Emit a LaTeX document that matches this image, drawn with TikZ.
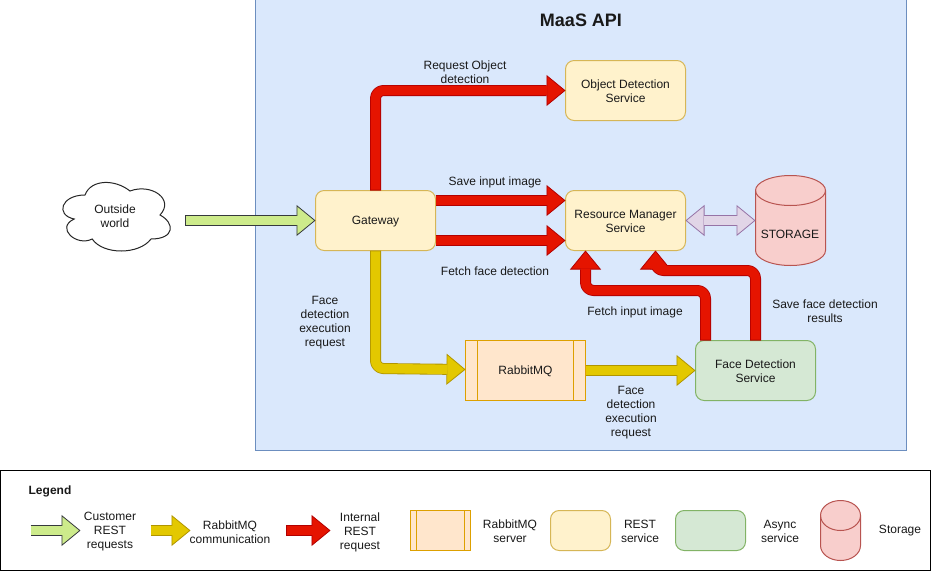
\documentclass[tikz,border=0pt]{standalone}
\usepackage{fontspec}
\setmainfont{Liberation Sans}
\usetikzlibrary{arrows.meta,calc}
\definecolor{apifill}{HTML}{DAE8FC}\definecolor{apiline}{HTML}{6C8EBF}
\definecolor{restfill}{HTML}{FFF2CC}\definecolor{restline}{HTML}{D6B656}
\definecolor{asyncfill}{HTML}{D5E8D4}\definecolor{asyncline}{HTML}{82B366}
\definecolor{rabbitfill}{HTML}{FFE6CC}\definecolor{rabbitline}{HTML}{DDA000}
\definecolor{storefill}{HTML}{F8CECC}\definecolor{storeline}{HTML}{B85450}
\definecolor{redfill}{HTML}{E51400}\definecolor{redline}{HTML}{B20000}
\definecolor{yelfill}{HTML}{E3C800}\definecolor{yelline}{HTML}{B09500}
\definecolor{grnfill}{HTML}{CDEB8B}\definecolor{grnline}{HTML}{36393D}
\definecolor{lilfill}{HTML}{E1D5E7}\definecolor{lilline}{HTML}{9673A6}
\tikzset{
  every node/.style={inner sep=0pt,outer sep=0pt,align=center,font=\fontsize{9}{10.5}\selectfont,text=black!90},
  svc/.style={draw,line width=0.75pt,rounded corners=6.5pt,minimum width=90pt,minimum height=45pt},
  rest/.style={svc,draw=restline,fill=restfill},
  async/.style={svc,draw=asyncline,fill=asyncfill},
  rabbit/.style={draw=rabbitline,fill=rabbitfill,line width=0.75pt,minimum width=90pt,minimum height=45pt},
  cylline/.style={draw=storeline,fill=storefill,line width=0.75pt},
  inlabel/.style={label={[yshift=-0.9pt,text=black!90]center:{#1}}},
  tipshape/.style n args={2}{-{Triangle[length=14.25pt,width=23.25pt,fill=#1,color=#2,line width=0.6pt]}},
  tipshapeB/.style n args={2}{{Triangle[length=14.25pt,width=23.25pt,fill=#1,color=#2,line width=0.6pt]}-{Triangle[length=14.25pt,width=23.25pt,fill=#1,color=#2,line width=0.6pt]}},
}
\newcommand{\fatarrow}[3]{%
  \draw[line width=8.25pt,line join=round,rounded corners=6pt,color=#2,tipshape={#1}{#2}] #3;
  \draw[line width=7pt,line join=round,rounded corners=6pt,color=#1,shorten >=13.5pt,shorten <=0.6pt] #3;
}
\newcommand{\fatdouble}[3]{%
  \draw[line width=8.25pt,color=#2,tipshapeB={#1}{#2}] #3;
  \draw[line width=7pt,color=#1,shorten >=13.5pt,shorten <=13.5pt] #3;
}
% x, y, w, h, ry
\newcommand{\cylinderdraw}[5]{%
  \draw[cylline] (#1,{#2+#5}) -- (#1,{#2+#4-#5})
    arc[start angle=180,end angle=360,x radius={#3*0.375pt},y radius={#5*0.75pt}]
    -- ({#1+#3},{#2+#5})
    arc[start angle=0,end angle=180,x radius={#3*0.375pt},y radius={#5*0.75pt}] -- cycle;
  \draw[draw=storeline,line width=0.75pt] (#1,{#2+#5})
    arc[start angle=180,end angle=360,x radius={#3*0.375pt},y radius={#5*0.75pt}];
}
\begin{document}
\begin{tikzpicture}[x=0.75pt,y=-0.75pt]
\useasboundingbox (0,0) rectangle (931,571);
% container
\node (api) [draw=apiline,fill=apifill,line width=0.75pt,minimum width=488.25pt,minimum height=338pt,anchor=north west] at (255.5,-0.5) {};
\node (apititle) [font=\fontsize{13.5}{15}\selectfont\bfseries] at (581,20) {MaaS API};
% cloud (x0=55,y0=175,w=120,h=80)
\draw[draw=black!85,fill=white,line width=0.75pt,shift={(55,175)}]
  (30,20) .. controls (6,20) and (0,40) .. (19.2,44)
  .. controls (0,52.8) and (21.6,72) .. (37.2,64)
  .. controls (48,80) and (84,80) .. (96,64)
  .. controls (120,64) and (120,48) .. (105,40)
  .. controls (120,24) and (96,8) .. (75,16)
  .. controls (60,4) and (36,4) .. (30,20) -- cycle;
\node (cloud) at (115,216) {Outside\\world};
\coordinate (cloudout) at (185,220.5);
% services
\node (gw) [rest,anchor=north west,inlabel={Gateway}] at (315.5,190.5) {};
\node (obj) [rest,anchor=north west,inlabel={Object Detection\\Service}] at (565.5,60.5) {};
\node (res) [rest,anchor=north west,inlabel={Resource Manager\\Service}] at (565.5,190.5) {};
\node (face) [async,anchor=north west,inlabel={Face Detection\\Service}] at (695.5,340.5) {};
\node (mq) [rabbit,anchor=north west,inlabel={RabbitMQ}] at (465.5,340.5) {};
\draw[rabbitline,line width=0.75pt] (477.5,340.5) -- (477.5,400.5) (573.5,340.5) -- (573.5,400.5);
% storage
\cylinderdraw{755.5}{175.5}{70}{90}{15}
\node (store) [minimum width=52.5pt,minimum height=67.5pt] at (790.5,220.5) {};
\node (storetext) at (790,234) {STORAGE};
% connectors
\fatarrow{grnfill}{grnline}{(cloudout) -- (gw.west)}
\fatarrow{redfill}{redline}{(gw.north) -- (375.5,90.5) -- (obj.west)}
\fatarrow{redfill}{redline}{([yshift=15pt]gw.east) -- ([yshift=15pt]res.west)}
\fatarrow{redfill}{redline}{([yshift=-15pt]gw.east) -- ([yshift=-15pt]res.west)}
\fatarrow{yelfill}{yelline}{(gw.south) -- (375.5,368.5) -- ([yshift=0.75pt]mq.west)}
\fatarrow{yelfill}{yelline}{(mq.east) -- (face.west)}
\fatarrow{redfill}{redline}{([xshift=7.5pt]face.north west) -- (705.5,290.5) -- (585.5,290.5) -- ([xshift=15pt]res.south west)}
\fatarrow{redfill}{redline}{(face.north) -- (755.5,270.5) -- (655.5,270.5) -- ([xshift=67.5pt]res.south west)}
\fatdouble{lilfill}{lilline}{(res.east) -- (store.west)}
% labels
\node (l1) at (465,72) {Request Object\\detection};
\node (l2) at (495,182) {Save input image};
\node (l3) at (495,271) {Fetch face detection};
\node (l4) at (325,322.5) {Face\\detection\\execution\\request};
\node (l5) at (635,312) {Fetch input image};
\node (l6) at (825,311) {Save face detection\\results};
\node (l7) at (631,412.5) {Face\\detection\\execution\\request};
% legend
\node (legend) [draw=black,fill=white,line width=0.75pt,minimum width=697.5pt,minimum height=75pt,anchor=north west] at (0.5,470.5) {};
\node (legtitle) [font=\fontsize{9}{10.5}\selectfont\bfseries] at (50,491) {Legend};
\coordinate (a1s) at (30.5,530.5);\coordinate (a1e) at (80.5,530.5);
\coordinate (a2s) at (150.5,530.5);\coordinate (a2e) at (190.5,530.5);
\coordinate (a3s) at (286,530.5);\coordinate (a3e) at (330.5,530.5);
\fatarrow{grnfill}{grnline}{(a1s) -- (a1e)}
\fatarrow{yelfill}{yelline}{(a2s) -- (a2e)}
\fatarrow{redfill}{redline}{(a3s) -- (a3e)}
\node (t1) at (110,532) {Customer\\REST\\requests};
\node (t2) at (230,532) {RabbitMQ\\communication};
\node (t3) at (360,532) {Internal\\REST\\request};
\node (k1) [rabbit,minimum width=45pt,minimum height=30pt,anchor=north west] at (410.5,510.5) {};
\draw[rabbitline,line width=0.75pt] (416.5,510.5) -- (416.5,550.5) (464.5,510.5) -- (464.5,550.5);
\node (t4) at (510,531) {RabbitMQ\\server};
\node (k2) [rest,minimum width=45pt,minimum height=30pt,anchor=north west] at (550.5,510.5) {};
\node (t5) at (640,531) {REST\\service};
\node (k3) [async,minimum width=52.5pt,minimum height=30pt,anchor=north west] at (675.5,510.5) {};
\node (t6) at (780,531) {Async\\service};
\cylinderdraw{820.5}{500.5}{40}{60}{15}
\node (t7) at (900,531) {Storage};
\end{tikzpicture}
\end{document}
